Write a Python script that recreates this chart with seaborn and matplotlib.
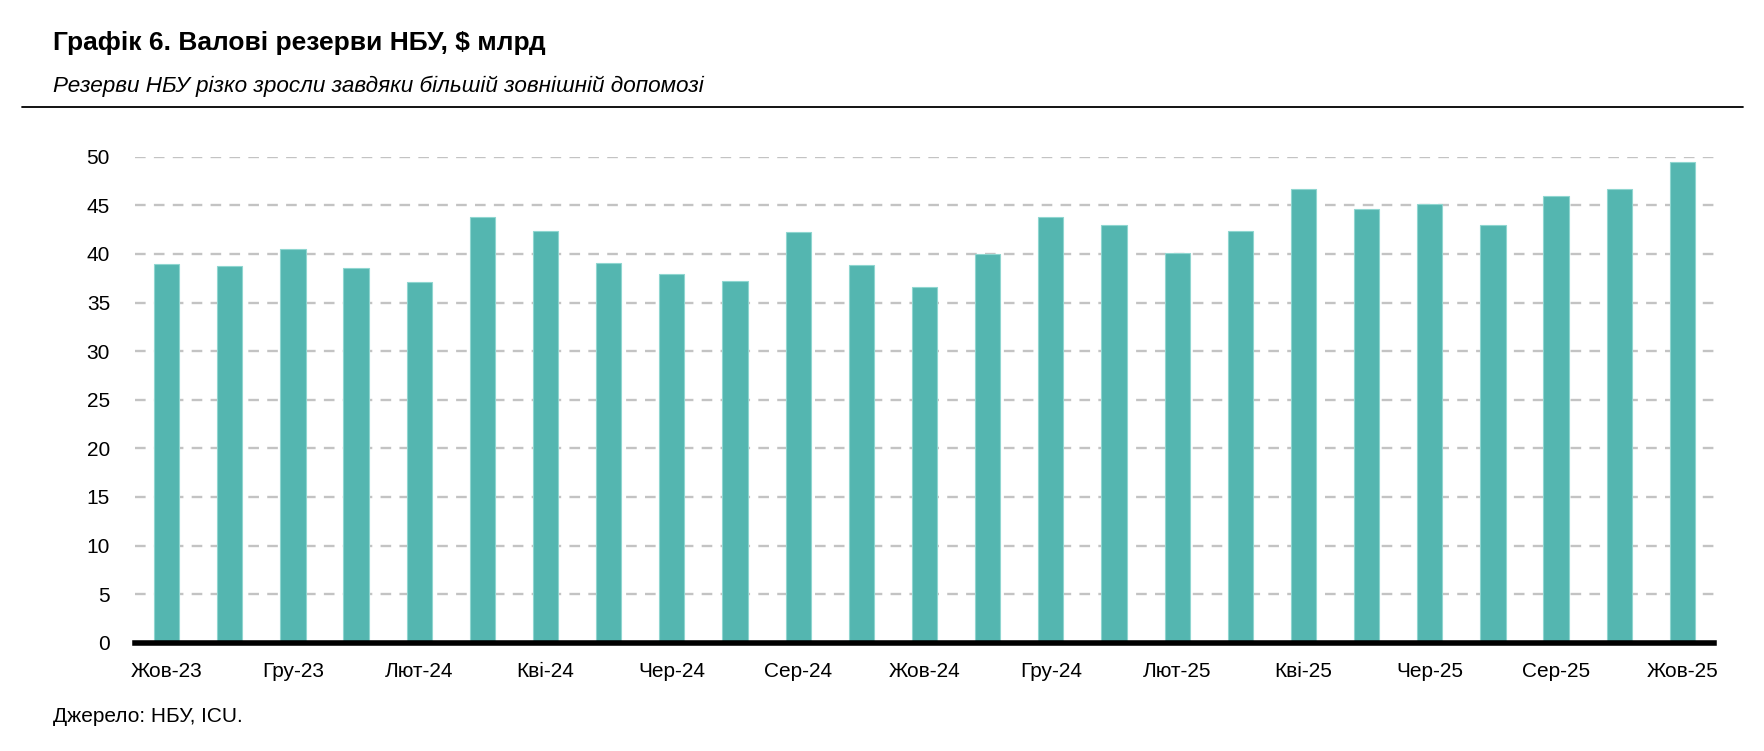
import matplotlib
matplotlib.use("Agg")
import matplotlib.pyplot as plt
import seaborn as sns
import pandas as pd

months = ["Жов-23", "Лис-23", "Гру-23", "Січ-24", "Лют-24", "Бер-24", "Кві-24", "Тра-24",
          "Чер-24", "Лип-24", "Сер-24", "Вер-24", "Жов-24", "Лис-24", "Гру-24", "Січ-25",
          "Лют-25", "Бер-25", "Кві-25", "Тра-25", "Чер-25", "Лип-25", "Сер-25", "Вер-25", "Жов-25"]
reserves = [39.0, 38.8, 40.5, 38.6, 37.1, 43.8, 42.4, 39.1, 37.9, 37.2, 42.3, 38.9, 36.6,
            40.0, 43.8, 43.0, 40.1, 42.4, 46.7, 44.6, 45.1, 43.0, 46.0, 46.7, 49.5]
yticks = [0, 5, 10, 15, 20, 25, 30, 35, 40, 45, 50]

title = "Графік 6. Валові резерви НБУ, $ млрд"
subtitle = "Резерви НБУ різко зросли завдяки більшій зовнішній допомозі"
source = "Джерело: НБУ, ICU."

sns.set_style("white")
FAM = ["Liberation Sans Narrow", "Liberation Sans", "DejaVu Sans"]
plt.rcParams["font.family"] = FAM
plt.rcParams["text.color"] = "black"

W, H = 1765, 751
fig = plt.figure(figsize=(W / 100, H / 100), dpi=100)

ax_left, ax_right = 135 / W, 1714 / W
ax_bottom, ax_top = 1 - 642.7 / H, 1 - 156.7 / H
ax = fig.add_axes([ax_left, ax_bottom, ax_right - ax_left, ax_top - ax_bottom])

df = pd.DataFrame({"month": months, "value": reserves})
sns.barplot(data=df, x="month", y="value", color="#54b6b0", saturation=1, width=0.40,
            edgecolor="#8fd6d0", linewidth=0.8, ax=ax, zorder=3)

ax.set_xlim(-0.5, len(months) - 0.5)
ax.set_ylim(0, 50)
ax.set_yticks(yticks)
ax.set_yticklabels([str(v) for v in yticks])
ax.yaxis.grid(True, color="#c3c3c3", linestyle=(0, (4.5, 3.5)), linewidth=1.7, zorder=0)
ax.xaxis.grid(False)
ax.set_axisbelow(True)
for s in ["top", "right", "left"]:
    ax.spines[s].set_visible(False)
ax.spines["bottom"].set_color("black")
ax.spines["bottom"].set_linewidth(4)
ax.spines["bottom"].set_zorder(5)

ax.set_xticks(range(0, len(months), 2))
ax.set_xticklabels(months[::2])
ax.tick_params(axis="both", length=0, labelsize=15, colors="black")
ax.tick_params(axis="y", pad=18)
ax.tick_params(axis="x", pad=14)
ax.set_xlabel("")
ax.set_ylabel("")

fig.text(53 / W, 1 - 50 / H, title, fontsize=19, fontweight="bold", color="black",
         ha="left", va="baseline")
fig.text(53 / W, 1 - 92 / H, subtitle, fontsize=16.2, fontstyle="italic", color="black",
         ha="left", va="baseline")
fig.add_artist(plt.Line2D([22 / W, 1743 / W], [1 - 107 / H, 1 - 107 / H], color="black", linewidth=1.3))
fig.text(53 / W, 1 - 722 / H, source, fontsize=15, color="black", ha="left", va="baseline")

fig.savefig("out.png", dpi=100)
